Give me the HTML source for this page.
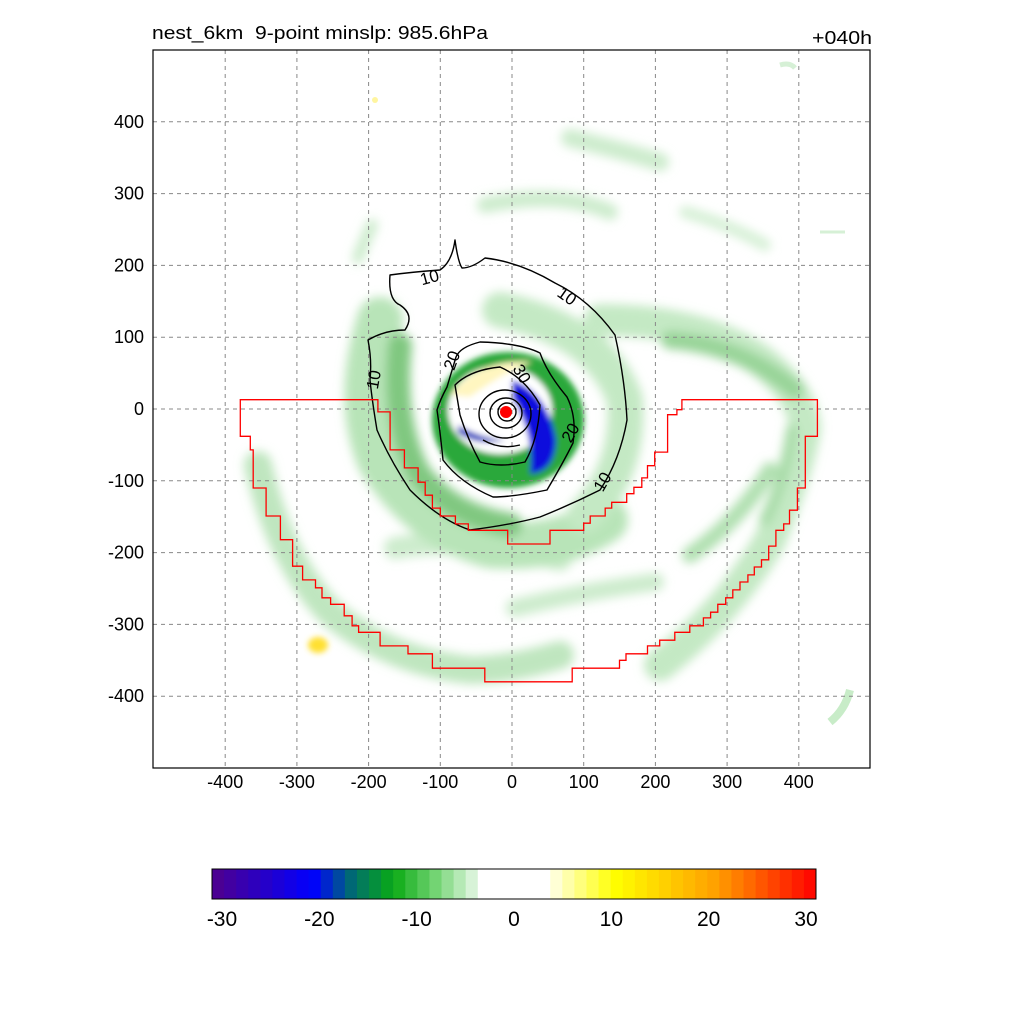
<!DOCTYPE html>
<html><head><meta charset="utf-8"><style>
body{margin:0;background:#fff;}
svg{display:block;font-family:"Liberation Sans",Arial,sans-serif;}
</style></head><body>
<svg id="chart" width="1024" height="1024" viewBox="0 0 1024 1024">
<defs>
<filter id="b6" x="-50%" y="-50%" width="200%" height="200%"><feGaussianBlur stdDeviation="5"/></filter>
<filter id="b3" x="-50%" y="-50%" width="200%" height="200%"><feGaussianBlur stdDeviation="3"/></filter>
<clipPath id="pc"><rect x="153" y="50" width="717" height="718"/></clipPath>
</defs>
<rect width="1024" height="1024" fill="#fff"/>
<g id="field" clip-path="url(#pc)">
 <g filter="url(#b6)" fill="none" stroke-linecap="round">
  <path d="M570,138 Q620,150 660,162" stroke="#cdeccd" stroke-width="18"/>
  <path d="M485,205 Q560,190 610,212" stroke="#cdeccd" stroke-width="16"/>
  <path d="M685,212 Q730,225 765,245" stroke="#d6f0d6" stroke-width="12"/>
  <path d="M372,225 Q365,240 358,258" stroke="#cdeccd" stroke-width="12"/>
  <path d="M600,320 Q700,320 760,360 Q805,395 805,430 Q795,480 770,540 Q730,610 660,665" stroke="#c4e9c4" stroke-width="32"/>
  <path d="M670,340 Q740,345 795,390" stroke="#98d498" stroke-width="18"/>
  <path d="M792,430 Q785,480 765,520" stroke="#a8dca8" stroke-width="12"/>
  <path d="M258,465 Q280,560 330,612 Q390,662 470,670 Q510,670 560,655" stroke="#bfe6bf" stroke-width="28"/>
  <path d="M395,548 Q470,535 560,560" stroke="#cdeccd" stroke-width="22"/>
  <path d="M515,608 Q580,592 655,582" stroke="#cdeccd" stroke-width="18"/>
  <path d="M690,555 Q740,520 770,470" stroke="#b0e0b0" stroke-width="16"/>
  <path d="M380,320 Q355,400 380,460 Q420,525 490,545 Q560,550 605,520" stroke="#b8e4b8" stroke-width="46"/>
  <path d="M500,310 Q600,330 625,400 Q630,470 585,515" stroke="#c4e9c4" stroke-width="36"/>
  <path d="M400,345 Q392,420 418,472 Q450,515 510,525" stroke="#80c880" stroke-width="24"/>
 </g>
 <g filter="url(#b3)">
  <ellipse cx="508" cy="420" rx="76" ry="68" fill="#2aa83a"/>
  <ellipse cx="500" cy="410" rx="52" ry="44" fill="#fff"/>
  <path d="M450,395 Q480,358 532,362 Q500,375 470,397 Z" fill="#fff6c0"/>
  <path d="M512,380 Q548,392 556,440 Q555,472 530,474 Q535,435 512,398 Z" fill="#0a0adc"/>
  <path d="M458,425 Q480,438 505,440 Q480,447 458,433 Z" fill="#1030c0"/>
  <ellipse cx="500" cy="415" rx="20" ry="18" fill="#fff"/>
 </g>
 <ellipse cx="318" cy="645" rx="10" ry="8" fill="#ffe030" filter="url(#b3)"/>
 <ellipse cx="375" cy="100" rx="3" ry="3" fill="#fff5a0"/>
 <path d="M780,65 Q790,62 795,68" stroke="#d6f0d6" stroke-width="5" fill="none"/>
 <path d="M850,690 Q845,710 830,722" stroke="#c8ecc8" stroke-width="8" fill="none"/>
 <path d="M820,232 L845,232" stroke="#d6f0d6" stroke-width="3"/>
</g>
<g id="grid"></g>
<g id="contours" clip-path="url(#pc)" fill="none" stroke="#000" stroke-width="1.4" stroke-linejoin="round">
 <path d="M455,240 Q458,262 462,268 Q472,268 485,258 Q520,262 555,283 Q590,300 615,335 Q625,380 627,420 Q620,460 600,490 Q570,505 540,517 Q510,525 470,530 Q440,520 410,490 Q390,460 377,430 Q372,400 370,380 Q372,360 368,340 Q385,330 405,330 Q415,315 400,305 Q388,300 390,275 Q412,272 440,270 Q452,262 455,240 Z"/>
 <path d="M456,357 Q460,347 480,342 Q520,343 540,353 Q547,373 567,397 Q577,417 573,443 Q563,463 547,490 Q513,497 493,497 Q460,483 443,460 Q440,430 437,410 Q440,400 447,387 Z"/>
 <path d="M455,385 Q470,370 500,367 Q525,378 540,405 Q538,440 525,462 Q500,468 480,462 Q468,440 460,415 Z"/>
 <ellipse cx="505" cy="414" rx="26" ry="24"/>
 <ellipse cx="506" cy="413" rx="16" ry="15"/>
 <ellipse cx="507" cy="412" rx="9" ry="9"/>
 <path d="M483,440 Q500,450 520,445"/>
</g>
<g font-size="17" fill="#000">
 <text x="420" y="283" transform="rotate(-15 430 277)">10</text>
 <text x="557" y="302" transform="rotate(35 567 297)">10</text>
 <text x="593" y="488" transform="rotate(-60 602 482)">10</text>
 <text x="366" y="388" transform="rotate(-80 373 382)">10</text>
 <text x="444" y="367" transform="rotate(-70 452 362)">20</text>
 <text x="561" y="439" transform="rotate(-60 570 433)">20</text>
 <text x="513" y="377" transform="rotate(60 520 372)">30</text>
</g>
<path id="domain" fill="none" stroke="#ff0000" stroke-width="1.3"/>
<circle cx="506" cy="412" r="6" fill="#ff0000"/>
<rect x="153" y="50" width="717" height="718" fill="none" stroke="#000" stroke-width="1.2"/>
<g id="xt" font-size="18" text-anchor="middle"></g>
<g id="yt" font-size="18" text-anchor="end"></g>
<text x="152" y="39" font-size="18" textLength="336" lengthAdjust="spacingAndGlyphs">nest_6km&#160;&#160;9-point minslp: 985.6hPa</text>
<text x="812" y="44" font-size="18" textLength="60" lengthAdjust="spacingAndGlyphs">+040h</text>
<g id="cbar"></g>
<rect x="212" y="869" width="604" height="30" fill="none" stroke="#000" stroke-width="1"/>
<g id="cbl" font-size="21" text-anchor="middle"></g>
</svg>
<script>
const xTicks=[-400,-300,-200,-100,0,100,200,300,400];
const yTicks=[400,300,200,100,0,-100,-200,-300,-400];
const cbTicks=[-30,-20,-10,0,10,20,30];
const domX=[-379,-187,-187,-170,-170,-150,-150,-131,-131,-121,-121,-111,-111,-100,-100,-79,-79,-61,-61,-6,-6,53,53,100,100,109,109,130,130,139,139,160,160,170,170,181,181,189,189,199,199,217,217,230,230,237,237,426,426,409,409,398,398,387,387,379,379,368,368,358,358,348,348,338,338,329,329,318,318,308,308,298,298,287,287,277,277,267,267,248,248,227,227,206,206,189,189,159,159,150,150,84,84,-38,-38,-111,-111,-145,-145,-184,-184,-214,-214,-223,-223,-234,-234,-253,-253,-265,-265,-274,-274,-292,-292,-306,-306,-323,-323,-343,-343,-361,-361,-365,-365,-379];
const domY=[13,13,-4,-4,-57,-57,-82,-82,-102,-102,-120,-120,-138,-138,-149,-149,-160,-160,-169,-169,-188,-188,-169,-169,-159,-159,-149,-149,-138,-138,-130,-130,-118,-118,-109,-109,-96,-96,-79,-79,-60,-60,-8,-8,-1,-1,13,13,-38,-38,-110,-110,-141,-141,-160,-160,-169,-169,-191,-191,-210,-210,-220,-220,-231,-231,-241,-241,-252,-252,-263,-263,-272,-272,-283,-283,-291,-291,-302,-302,-311,-311,-322,-322,-330,-330,-341,-341,-350,-350,-361,-361,-380,-380,-361,-361,-341,-341,-330,-330,-311,-311,-302,-302,-288,-288,-272,-272,-263,-263,-249,-249,-238,-238,-219,-219,-182,-182,-149,-149,-110,-110,-57,-57,-38,-38];
const NS='http://www.w3.org/2000/svg';
const sx=v=>512+v*0.717, sy=v=>409-v*0.718;
const cx=v=>212+(v+30)/60*604;
const lx=v=>222+(v+30)/60*584;
function mk(t,a,p){const e=document.createElementNS(NS,t);for(const k in a)e.setAttribute(k,a[k]);p.appendChild(e);return e;}
const grid=document.getElementById('grid');
xTicks.forEach(v=>{const l=mk('line',{x1:sx(v),x2:sx(v),y1:50,y2:768,stroke:'#888','stroke-dasharray':'4,4','stroke-width':1},grid);


const t=mk('text',{x:sx(v),y:788},document.getElementById('xt'));t.textContent=v;

});
yTicks.forEach(v=>{const l=mk('line',{x1:153,x2:870,y1:sy(v),y2:sy(v),stroke:'#888','stroke-dasharray':'4,4','stroke-width':1},grid);


const t=mk('text',{x:144,y:sy(v)+6},document.getElementById('yt'));t.textContent=v;

});
let d='';domX.forEach((x,i)=>{d+=(i?'L':'M')+sx(x).toFixed(1)+','+sy(domY[i]).toFixed(1);});
document.getElementById('domain').setAttribute('d',d+'Z');
const stops=[[-30,[80,0,140]],[-20,[0,0,255]],[-16,[0,110,110]],[-12,[10,170,20]],[-8,[110,210,110]],[-4,[220,245,220]],[-3,[255,255,255]],[3,[255,255,255]],[4,[255,255,220]],[10,[255,255,0]],[20,[255,160,0]],[30,[255,0,0]]];
function col(v){for(let i=0;i<stops.length-1;i++){const a=stops[i],b=stops[i+1];if(v>=a[0]&&v<=b[0]){const f=(v-a[0])/(b[0]-a[0]);return 'rgb('+a[1].map((c,j)=>Math.round(c+(b[1][j]-c)*f)).join(',')+')';}}return '#f00';}
const cb=document.getElementById('cbar');
for(let i=0;i<50;i++){const v=-30+(i+0.5)*1.2;const r=mk('rect',{x:cx(-30+i*1.2),y:869,width:604/50+0.5,height:30,fill:col(v)},cb);

}
cbTicks.forEach(v=>{const t=mk('text',{x:lx(v),y:926},document.getElementById('cbl'));t.textContent=v;

});
</script>
</body></html>
